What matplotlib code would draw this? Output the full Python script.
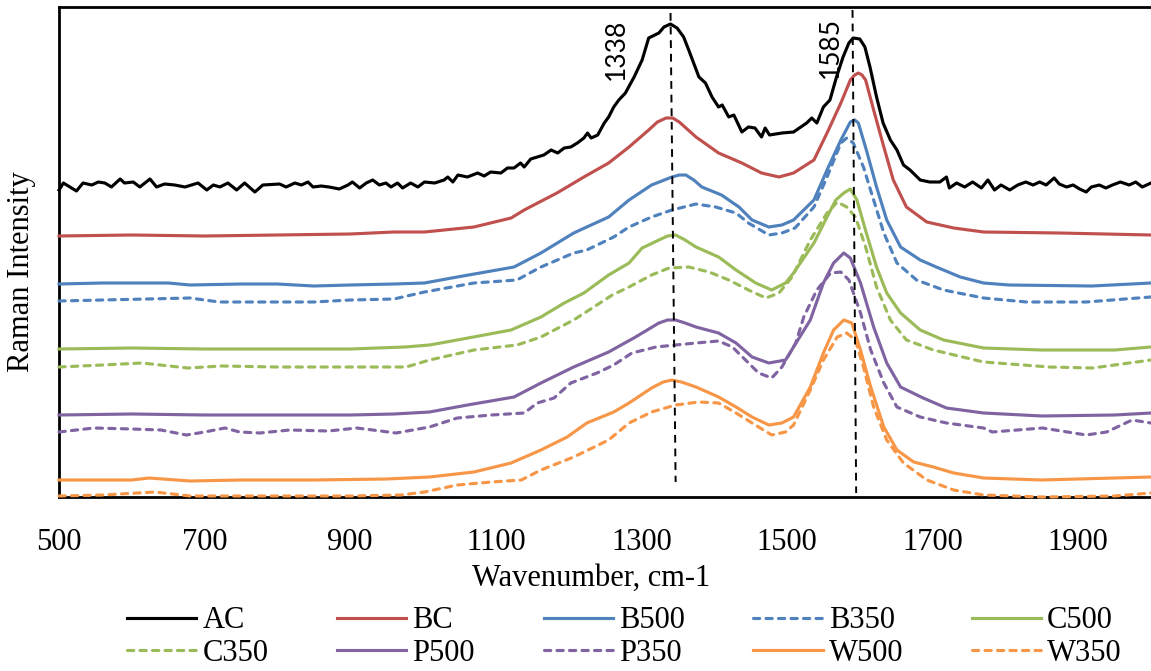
import matplotlib
matplotlib.use('Agg')
import matplotlib.pyplot as plt

# 1. 数据 (从图中读取, 强度为任意单位)
ac_x = [500, 506, 515, 524, 533, 545, 554, 563, 572, 584, 590, 602, 611, 625, 634, 645, 659, 673, 691, 703,
        712, 721, 732, 744, 755, 769, 780, 803, 812, 824, 833, 842, 849, 860, 871, 885, 897, 903, 913, 922,
        931, 940, 949, 956, 965, 972, 983, 993, 1002, 1016, 1029, 1034, 1041, 1048, 1061, 1075, 1084, 1093,
        1107, 1116, 1125, 1134, 1139, 1148, 1157, 1166, 1176, 1185, 1194, 1203, 1212, 1221, 1226, 1231, 1240,
        1249, 1255, 1262, 1269, 1278, 1290, 1301, 1310, 1324, 1331, 1340, 1349, 1358, 1365, 1379, 1388, 1397,
        1406, 1411, 1420, 1427, 1438, 1447, 1456, 1465, 1470, 1476, 1493, 1509, 1527, 1534, 1541, 1550, 1559,
        1568, 1577, 1585, 1591, 1600, 1607, 1614, 1623, 1632, 1642, 1651, 1660, 1669, 1683, 1696, 1710, 1719,
        1723, 1733, 1744, 1755, 1767, 1776, 1785, 1794, 1806, 1817, 1828, 1838, 1847, 1856, 1867, 1874, 1884,
        1893, 1902, 1911, 1918, 1929, 1938, 1947, 1958, 1970, 1979, 1988, 2000]
ac_y = [307, 314, 310, 306, 314, 312, 315, 314, 310, 318, 314, 315, 310, 318, 310, 313, 312, 310, 314, 307,
        312, 310, 314, 307, 314, 305, 312, 313, 310, 314, 312, 315, 310, 311, 310, 308, 312, 315, 309, 314,
        317, 312, 314, 310, 314, 309, 314, 310, 315, 314, 317, 320, 315, 322, 320, 324, 321, 325,
        324, 329, 329, 334, 330, 338, 340, 342, 347, 344, 349, 350, 354, 359, 364, 359, 362,
        374, 380, 390, 397, 404, 420, 437, 459, 464, 470, 473, 469, 460, 447, 420, 414, 400,
        390, 392, 380, 382, 365, 370, 369, 360, 369, 362, 364, 365, 374, 379, 374, 390, 397,
        420, 440, 454, 459, 458, 450, 430, 400, 374, 357, 347, 332, 327, 317, 315, 315, 320,
        309, 314, 310, 315, 309, 317, 307, 312, 307, 312, 315, 312, 315, 312, 319, 313, 310,
        312, 308, 305, 310, 312, 309, 312, 315, 312, 315, 310, 314]

bc_x = [500, 600, 700, 800, 900, 960, 1002, 1070, 1121, 1139, 1184, 1221, 1255, 1283, 1310, 1322, 1334, 1343,
        1352, 1375, 1406, 1438, 1465, 1489, 1509, 1537, 1555, 1574, 1587, 1593, 1598, 1603, 1608, 1619, 1633,
        1646, 1664, 1692, 1729, 1770, 1874, 2000]
bc_y = [261, 262, 261, 262, 263, 265, 265, 270, 279, 287, 304, 320, 334, 350, 367, 375, 379, 379,
        375, 360, 344, 334, 324, 320, 324, 337, 364, 394, 417, 422, 424, 422, 417, 387, 350,
        317, 290, 275, 269, 265, 264, 262]

b500_x = [500, 560, 650, 680, 750, 800, 850, 900, 960, 1002, 1047, 1125, 1162, 1207, 1255, 1283, 1314, 1342,
          1352, 1361, 1372, 1383, 1410, 1434, 1452, 1475, 1493, 1509, 1537, 1555, 1574, 1587, 1593, 1598,
          1609, 1623, 1637, 1656, 1683, 1705, 1738, 1770, 1805, 1919, 2000]
b500_y = [213, 214, 214, 212, 213, 213, 211, 212, 213, 214, 220, 230, 244, 264, 280, 297, 312, 320,
          322, 322, 317, 310, 302, 290, 277, 270, 272, 277, 297, 327, 357, 375, 377, 374,
          347, 310, 277, 250, 237, 230, 220, 214, 212, 211, 214]

b350_x = [500, 560, 620, 680, 720, 780, 850, 900, 960, 1002, 1070, 1129, 1162, 1207, 1225, 1262, 1283, 1314,
          1342, 1375, 1402, 1430, 1447, 1475, 1493, 1511, 1537, 1555, 1574, 1582, 1591, 1605, 1619, 1633, 1651,
          1678, 1715, 1770, 1829, 1911, 2000]
b350_y = [196, 197, 198, 199, 195, 195, 195, 197, 198, 205, 214, 217, 230, 244, 247, 260, 270, 280,
          287, 293, 290, 284, 274, 262, 264, 269, 290, 320, 354, 359, 354, 330, 297, 264, 234,
          217, 207, 199, 195, 195, 200]

c500_x = [500, 600, 700, 800, 900, 975, 1009, 1047, 1121, 1162, 1194, 1221, 1255, 1283, 1301, 1324, 1336, 1347,
          1360, 1375, 1406, 1430, 1457, 1479, 1498, 1509, 1537, 1555, 1567, 1578, 1587, 1596, 1609, 1623, 1637,
          1656, 1683, 1715, 1770, 1850, 1950, 2000]
c500_y = [148, 149, 148, 148, 148, 150, 152, 157, 167, 180, 194, 204, 222, 234, 249, 257, 261, 262,
          257, 250, 240, 227, 214, 207, 214, 224, 254, 280, 297, 304, 308, 297, 264, 230, 204,
          184, 167, 157, 149, 147, 147, 150]

c350_x = [500, 560, 614, 677, 723, 800, 900, 977, 1009, 1070, 1129, 1162, 1207, 1260, 1283, 1314, 1338, 1365,
          1393, 1420, 1447, 1471, 1489, 1507, 1532, 1555, 1569, 1582, 1594, 1608, 1623, 1642, 1664, 1701, 1770,
          1860, 1920, 2000]
c350_y = [130, 132, 134, 129, 131, 130, 130, 130, 137, 147, 152, 160, 177, 202, 210, 222, 229, 230,
          225, 217, 207, 199, 204, 220, 257, 284, 295, 290, 280, 250, 210, 177, 157, 147, 135,
          130, 129, 137]

p500_x = [500, 600, 700, 800, 900, 960, 1009, 1061, 1125, 1162, 1207, 1255, 1292, 1324, 1336, 1347, 1360, 1375,
          1406, 1430, 1452, 1475, 1498, 1509, 1532, 1550, 1564, 1578, 1587, 1601, 1619, 1637, 1656, 1687, 1719,
          1770, 1850, 1950, 2000]
p500_y = [82, 83, 82, 82, 82, 83, 85, 92, 100, 114, 130, 145, 160, 174, 177, 177, 174, 170,
          164, 154, 140, 134, 137, 150, 177, 214, 234, 244, 239, 214, 170, 134, 110, 99, 89,
          84, 81, 82, 84]

p350_x = [500, 548, 600, 640, 675, 700, 728, 748, 776, 817, 870, 909, 931, 963, 1009, 1047, 1094, 1139, 1157,
          1180, 1203, 1239, 1262, 1287, 1320, 1347, 1375, 1406, 1425, 1443, 1461, 1479, 1493, 1512, 1523, 1541,
          1560, 1574, 1585, 1601, 1615, 1633, 1651, 1683, 1719, 1770, 1782, 1851, 1911, 1939, 1974, 2000]
p350_y = [65, 69, 68, 67, 62, 65, 69, 65, 64, 67, 66, 69, 67, 64, 70, 79, 82, 84, 94,
          99, 114, 124, 132, 144, 150, 152, 154, 156, 150, 137, 124, 119, 130, 154, 180, 207,
          224, 225, 217, 184, 147, 114, 90, 80, 74, 69, 65, 69, 62, 65, 77, 74]

w500_x = [500, 600, 624, 680, 750, 850, 950, 1009, 1070, 1121, 1162, 1198, 1225, 1262, 1283, 1314, 1330, 1342,
          1355, 1375, 1406, 1430, 1452, 1475, 1493, 1509, 1532, 1550, 1564, 1578, 1589, 1601, 1615, 1633, 1651,
          1674, 1701, 1729, 1770, 1850, 1950, 2000]
w500_y = [17, 17, 19, 16, 17, 17, 18, 20, 25, 34, 47, 60, 74, 85, 94, 109, 115, 117,
          115, 110, 100, 90, 80, 72, 74, 80, 110, 144, 167, 177, 174, 147, 110, 70, 47,
          35, 30, 24, 19, 17, 19, 20]

w350_x = [500, 560, 632, 680, 800, 900, 970, 1002, 1047, 1094, 1135, 1162, 1207, 1255, 1283, 1314, 1347, 1379,
          1406, 1430, 1452, 1479, 1498, 1509, 1532, 1550, 1569, 1582, 1594, 1605, 1619, 1637, 1660, 1692, 1729,
          1770, 1850, 1950, 2000]
w350_y = [1, 2, 5, 1, 1, 1, 2, 5, 12, 15, 17, 27, 40, 57, 74, 85, 92, 95,
          94, 84, 74, 62, 65, 72, 107, 137, 160, 164, 157, 130, 90, 57, 34, 17, 7,
          2, 0, 1, 4]

labels = ['AC', 'BC', 'B500', 'B350', 'C500', 'C350', 'P500', 'P350', 'W500', 'W350']
xticks = [500, 700, 900, 1100, 1300, 1500, 1700, 1900]
peaks = [1338, 1585]


# 2. 定义函数, 绘制拉曼光谱
def dm01_raman():
    plt.rcParams['font.family'] = ['Liberation Serif', 'DejaVu Serif']
    fig = plt.figure(figsize=(11.51, 6.71), dpi=100)
    ax = fig.add_axes([59 / 1151, 1 - 497 / 671, 1 - 59 / 1151, 490 / 671])

    series = [(ac_x, ac_y), (bc_x, bc_y), (b500_x, b500_y), (b350_x, b350_y), (c500_x, c500_y),
              (c350_x, c350_y), (p500_x, p500_y), (p350_x, p350_y), (w500_x, w500_y), (w350_x, w350_y)]
    colors = ['#000000', '#C0504D', '#4F81BD', '#4F81BD', '#9BBB59',
              '#9BBB59', '#8064A2', '#8064A2', '#F79646', '#F79646']
    dashed = [False, False, False, True, False, True, False, True, False, True]

    # 2.1 绘制每条曲线
    for (xs, ys), c, d, lab in zip(series, colors, dashed, labels):
        if d:
            ax.plot(xs, ys, color=c, lw=2.25, ls='--', dashes=(2.0, 2.0),
                    dash_capstyle='round', label=lab, clip_on=False, zorder=3)
        else:
            ax.plot(xs, ys, color=c, lw=2.25, label=lab, clip_on=False, zorder=3)

    # 2.2 峰位虚线 (原图中线略微倾斜)
    ax.plot([1340, 1347], [484, 15], color='black', lw=1.4, ls='--', dashes=(4, 3), zorder=4)
    ax.plot([1590, 1595], [487, 4], color='black', lw=1.4, ls='--', dashes=(4, 3), zorder=4)
    ax.text(1266, 448, str(peaks[0]), rotation=90, ha='center', va='center',
            fontsize=19, family=['Lato', 'DejaVu Sans'])
    ax.text(1560, 450, str(peaks[1]), rotation=90, ha='center', va='center',
            fontsize=19, family=['Lato', 'DejaVu Sans'])

    # 2.3 坐标轴
    ax.set_xlim(500, 2000)
    ax.set_ylim(0, 490)
    ax.set_xticks(xticks)
    ax.set_xticklabels([str(t) for t in xticks])
    ax.set_yticks([])
    ax.tick_params(axis='x', length=0, pad=22, labelsize=22)
    for s in ['left', 'bottom', 'top']:
        ax.spines[s].set_linewidth(2.0)
    ax.spines['right'].set_visible(False)

    ax.set_xlabel('Wavenumber, cm-1', fontsize=22, va='center')
    ax.xaxis.set_label_coords(0.487, -0.165)
    ax.set_ylabel('Raman Intensity', fontsize=22, va='center')
    ax.yaxis.set_label_coords(-0.034, 0.459)

    # 2.4 图例 (按行排列: 先第一行5个, 再第二行5个)
    handles, labs = ax.get_legend_handles_labels()
    order = [0, 5, 1, 6, 2, 7, 3, 8, 4, 9]
    ax.legend([handles[i] for i in order], [labs[i] for i in order],
              loc='center', bbox_to_anchor=(624.5 / 1151, 1 - 637 / 671), bbox_transform=fig.transFigure,
              ncol=5, frameon=False, fontsize=22, handlelength=2.26, handletextpad=0.2,
              columnspacing=2.25, labelspacing=0.1, borderpad=0, borderaxespad=0)

    # 2.5 保存图形
    fig.savefig('out.png', dpi=100)


if __name__ == '__main__':
    dm01_raman()
